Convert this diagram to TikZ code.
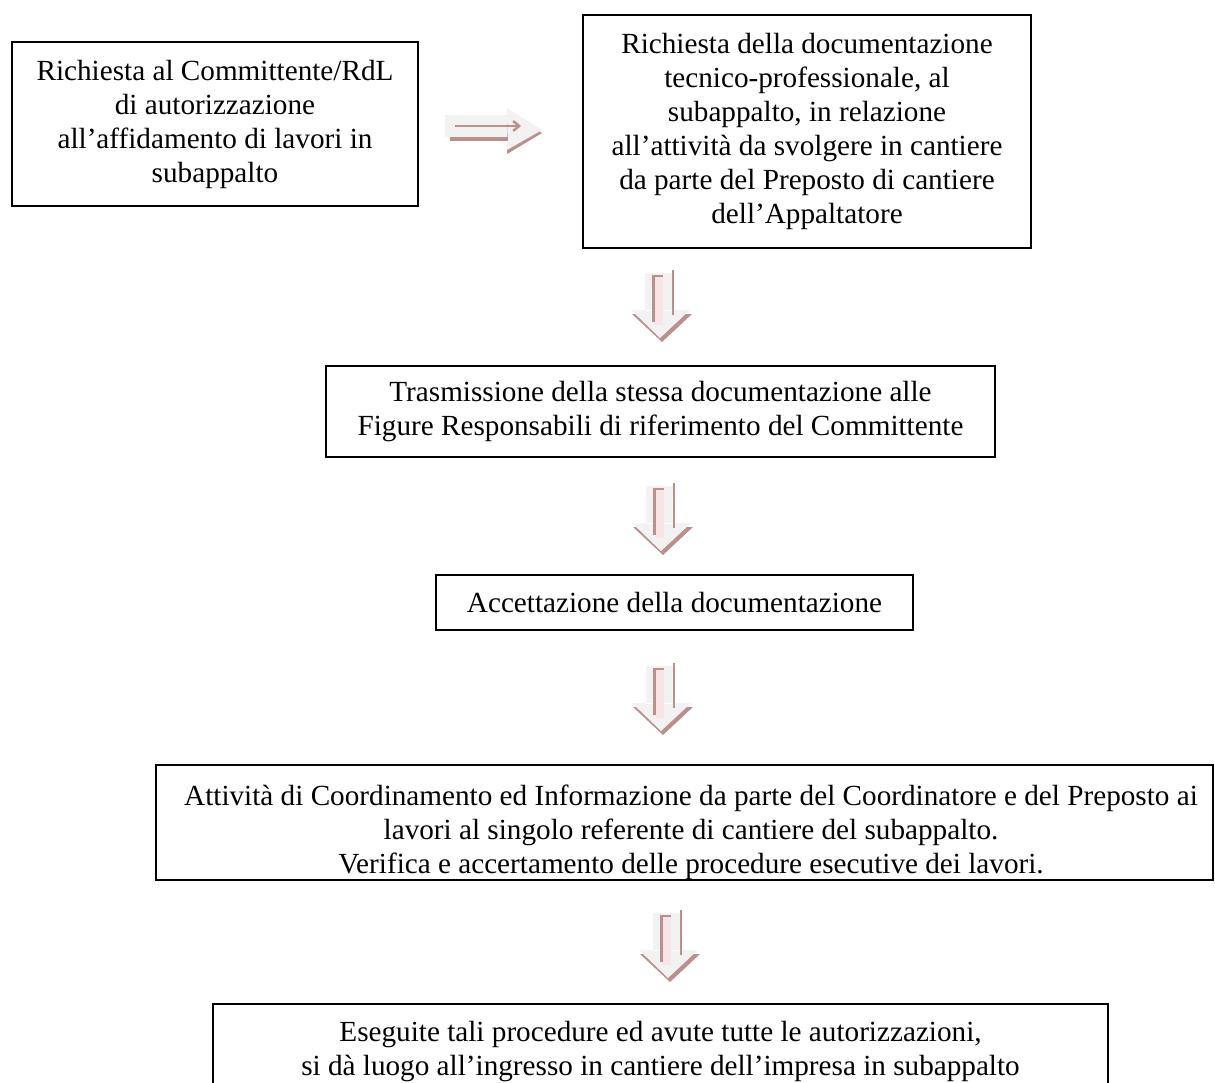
\documentclass[tikz,border=0pt]{standalone}
\usepackage{fontspec}
\setmainfont{Liberation Serif}
\usepackage{xcolor}
\definecolor{arrowgray}{HTML}{F2F2F2}
\definecolor{arrowshade}{HTML}{BC8F8F}
\definecolor{arrowpink}{HTML}{F7E4E4}
\usepackage{tikz}
\usetikzlibrary{arrows.meta,positioning,calc}

\begin{document}
\begin{tikzpicture}[x=0.5pt, y=-0.5pt,
    box/.style={draw=black, line width=0.9pt, align=center, inner sep=0pt,
      font=\fontsize{14.6pt}{17pt}\selectfont},
    txt/.style={align=center, inner sep=0pt, font=\fontsize{14.6pt}{17pt}\selectfont},
    downarr/.pic={
      \fill[arrowshade] (-28,47) -- (32,47) -- (2,75) -- cycle;
      \fill[arrowgray] (-15,6) rectangle (12,44) (-29,43) -- (30,43) -- (0,71) -- cycle;
      \fill[arrowshade] (12,3) rectangle (14,48);
      \fill[arrowshade] (-8,8) rectangle (-5,55);
      \fill[arrowshade] (-8,8) rectangle (3,10);
      \fill[arrowpink] (-5,10) rectangle (3,58);
    },
    rightarr/.pic={
      \fill[arrowshade] (63,-18) -- (97,3) -- (62,24) -- cycle;
      \fill[arrowgray] (0,-15) rectangle (63,7) (62,-22) -- (97,0) -- (62,20) -- cycle;
      \draw[arrowshade, line width=1.2pt, -{Straight Barb[length=3pt,width=5pt]}] (10,-4) -- (76,-4);
      \fill[arrowshade] (5,7) rectangle (63,11);
    }]
  \clip (0,0) rectangle (1215,1082);
  \fill[white] (0,0) rectangle (1215,1082);

  % boxes
  \node[box, minimum width=203pt, minimum height=82pt] (richiesta) at (215,124)
    {Richiesta al Committente/RdL\\ di autorizzazione\\ all’affidamento di lavori in\\ subappalto};
  \node[box, minimum width=224pt, minimum height=116.5pt] (documenti) at (807,131.5)
    {Richiesta della documentazione\\ tecnico-professionale, al\\ subappalto, in relazione\\ all’attività da svolgere in cantiere\\ da parte del Preposto di cantiere\\ dell’Appaltatore};
  \node[box, minimum width=334.5pt, minimum height=45.5pt] (trasmissione) at (660.5,411.5)
    {Trasmissione della stessa documentazione alle\\ Figure Responsabili di riferimento del Committente};
  \node[box, minimum width=238.5pt, minimum height=27.5pt] (accettazione) at (674.5,602.5)
    {Accettazione della documentazione};
  \node[box, minimum width=528.5pt, minimum height=57.5pt] (coordinamento) at (684.5,822.5) {};
  \begin{scope}
    \clip (coordinamento.north west) rectangle (coordinamento.south east);
    \node[txt] (coordtesto) at (691,832)
      {Attività di Coordinamento ed Informazione da parte del Coordinatore e del Preposto ai\\ lavori al singolo referente di cantiere del subappalto.\\ Verifica e accertamento delle procedure esecutive dei lavori.};
  \end{scope}
  \node[box, minimum width=447.5pt, minimum height=48pt] (ingresso) at (660.5,1052)
    {Eseguite tali procedure ed avute tutte le autorizzazioni,\\ si dà luogo all’ingresso in cantiere dell’impresa in subappalto};

  % arrows
  \pic at (445,130) {rightarr};
  \pic at (660,267) {downarr};
  \pic at (661,480) {downarr};
  \pic at (661,660) {downarr};
  \pic at (668,907) {downarr};
\end{tikzpicture}
\end{document}
